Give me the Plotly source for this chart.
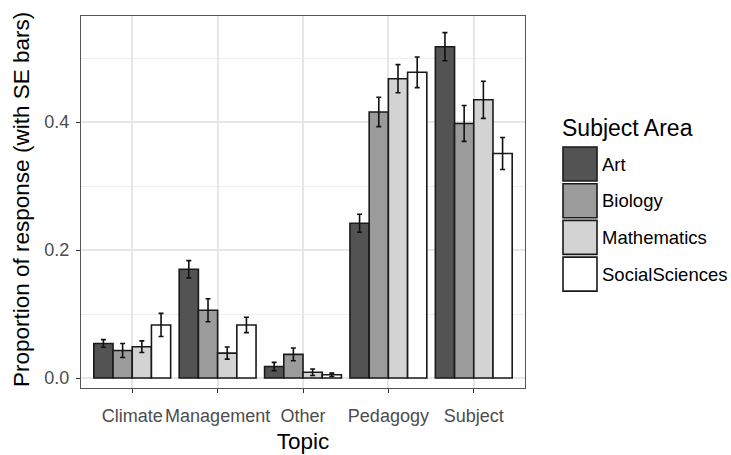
import plotly.graph_objects as go

topics = ["Climate", "Management", "Other", "Pedagogy", "Subject"]
subjects = ["Art", "Biology", "Mathematics", "SocialSciences"]
values = {
    "Art":            [0.054, 0.170, 0.018, 0.242, 0.518],
    "Biology":        [0.043, 0.106, 0.037, 0.416, 0.398],
    "Mathematics":    [0.049, 0.039, 0.009, 0.468, 0.435],
    "SocialSciences": [0.083, 0.083, 0.005, 0.478, 0.351],
}
se = {
    "Art":            [0.006, 0.0135, 0.0065, 0.014, 0.022],
    "Biology":        [0.011, 0.018, 0.010, 0.023, 0.028],
    "Mathematics":    [0.009, 0.0095, 0.005, 0.022, 0.029],
    "SocialSciences": [0.018, 0.012, 0.0026, 0.024, 0.025],
}
fills = ["#535353", "#9b9b9b", "#d3d3d3", "#ffffff"]

FONT = "Liberation Sans, Arial, sans-serif"

fig = go.Figure()
for name, col in zip(subjects, fills):
    fig.add_trace(go.Bar(
        x=topics, y=values[name], name=name,
        marker=dict(color=col, line=dict(color="#1a1a1a", width=1.6)),
        error_y=dict(type="data", array=se[name], color="#111111",
                     thickness=1.6, width=2.5),
        showlegend=False,
    ))

W, H = 731, 455
ML, MR, MT, MB = 81, 206, 16, 67

fig.update_layout(
    width=W, height=H,
    margin=dict(l=ML, r=MR, t=MT, b=MB),
    paper_bgcolor="white", plot_bgcolor="white",
    barmode="group", bargap=0.1, bargroupgap=0.0,
    font=dict(family=FONT),
    xaxis=dict(
        range=[-0.6, 4.6], showgrid=True, gridcolor="#e6e6e6", gridwidth=1.5,
        ticks="outside", ticklen=4, tickcolor="#333333", tickwidth=1,
        tickangle=0, ticklabelstandoff=7,
        tickfont=dict(size=18, color="#4d4d4d"),
        title=dict(text="Topic", font=dict(size=22.5, color="black"), standoff=8),
        showline=True, linecolor="#555555", linewidth=1, mirror=True,
        zeroline=False, automargin=False,
    ),
    yaxis=dict(
        range=[-0.0156, 0.566], tickvals=[0.0, 0.2, 0.4],
        ticktext=["0.0", "0.2", "0.4"],
        showgrid=True, gridcolor="#e6e6e6", gridwidth=1.5,
        minor=dict(tickvals=[0.1, 0.3, 0.5], showgrid=True,
                   gridcolor="#efefef", gridwidth=1, ticks=""),
        ticks="outside", ticklen=4, tickcolor="#333333", tickwidth=1,
        ticklabelstandoff=3,
        tickfont=dict(size=18, color="#4d4d4d"),
        showline=True, linecolor="#555555", linewidth=1, mirror=True,
        zeroline=False, automargin=False,
    ),
)

def px2paper_x(px):
    return (px - ML) / (W - ML - MR)
def px2paper_y(py):
    return 1 - (py - MT) / (H - MT - MB)

# Y-axis title
fig.add_annotation(text="Proportion of response (with SE bars)",
                   xref="paper", yref="paper",
                   x=px2paper_x(21), y=px2paper_y(200),
                   xanchor="center", yanchor="middle", textangle=-90,
                   showarrow=False,
                   font=dict(size=22.5, color="black", family=FONT))

# Manual legend (ggplot-style large keys)
x0_px, key_w, key_h, row_h, top_px = 563, 34, 34, 36.7, 147

fig.add_annotation(text="Subject Area", xref="paper", yref="paper",
                   x=px2paper_x(560), y=px2paper_y(128), xanchor="left",
                   yanchor="middle", showarrow=False,
                   font=dict(size=23, color="black", family=FONT))
for i, (name, col) in enumerate(zip(subjects, fills)):
    ty = top_px + i * row_h
    fig.add_shape(type="rect", xref="paper", yref="paper",
                  x0=px2paper_x(x0_px), x1=px2paper_x(x0_px + key_w),
                  y0=px2paper_y(ty), y1=px2paper_y(ty + key_h),
                  fillcolor=col, line=dict(color="#1a1a1a", width=1.6))
    fig.add_annotation(text=name, xref="paper", yref="paper",
                       x=px2paper_x(600), y=px2paper_y(ty + key_h / 2),
                       xanchor="left", yanchor="middle", showarrow=False,
                       font=dict(size=18.5, color="black", family=FONT))

fig.write_html("out.html")
